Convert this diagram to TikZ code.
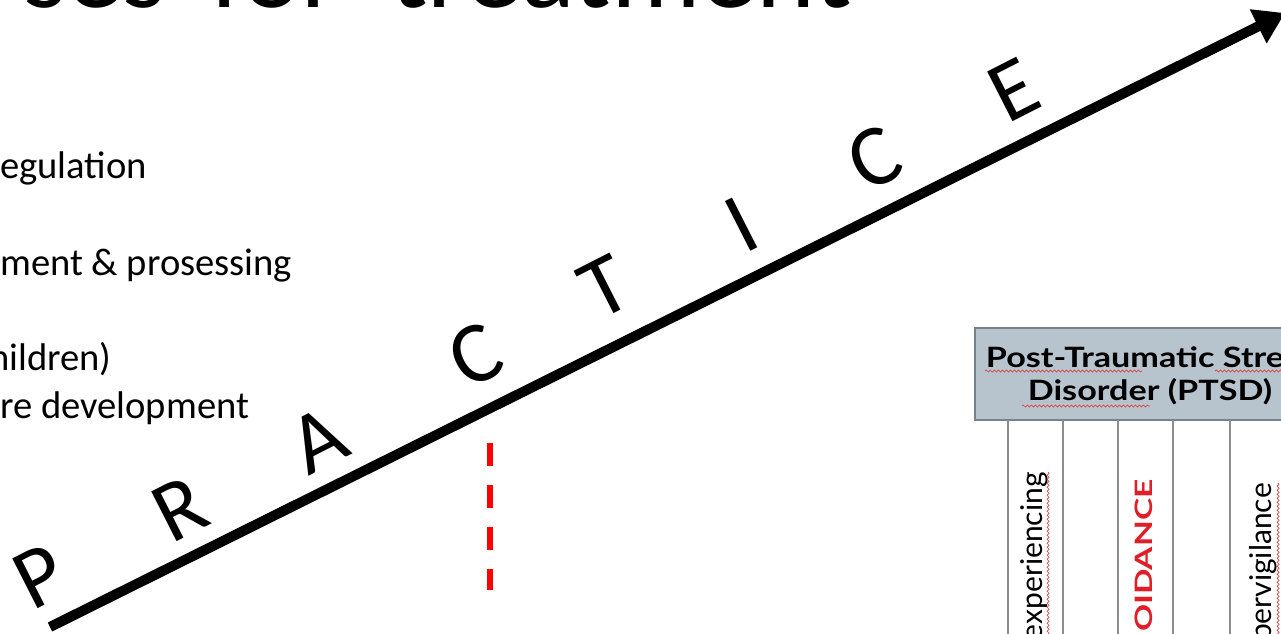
\documentclass[tikz,border=0pt]{standalone}
\usepackage{fontspec}
\setmainfont{Carlito}
\newfontfamily\tblfont{Lato}
\newfontfamily\hdrfont{Lato}[FakeStretch=1.22]
\usetikzlibrary{arrows.meta,decorations.pathmorphing}
\definecolor{hdrfill}{RGB}{184,196,205}
\definecolor{hdrdraw}{RGB}{118,130,138}
\definecolor{colgray}{RGB}{140,140,140}
\definecolor{avred}{RGB}{225,30,40}
\definecolor{squig}{RGB}{215,70,70}
\begin{document}
\begin{tikzpicture}[x=1pt,y=-1pt,
  body/.style={anchor=base west, inner sep=0pt, font=\fontsize{38.6}{40}\selectfont},
  letter/.style={rotate=27, inner sep=0pt, font=\fontsize{87}{87}\selectfont},
  hdrbox/.style={draw=hdrdraw, fill=hdrfill, line width=1.5pt, minimum width=350pt, minimum height=92pt, inner sep=0pt},
  hdrtext/.style={align=center, inner sep=0pt, font=\hdrfont\bfseries\fontsize{28}{33}\selectfont},
  colline/.style={draw=colgray, line width=1.6pt},
  vlabel/.style={rotate=90, anchor=base east, inner sep=0pt, font=\tblfont\fontsize{30}{30}\selectfont},
  squiggle/.style={draw=squig, line width=0.7pt, decorate, decoration={snake, amplitude=1pt, segment length=4pt}}
]
\useasboundingbox (0,0) rectangle (1281,633);
\clip (0,0) rectangle (1281,633);

% title (cut at top)
\node[anchor=base east, inner sep=0pt, font=\fontsize{112}{112}\selectfont] (title) at (852,7) {ses\hspace{44pt}for\hspace{50pt}treatment};

% body text (cut at left)
\node[body] (t1) at (0,178) {egulation};
\node[body] (t2) at (0,275) {ment \& prosessing};
\node[body] (t3) at (-11,370) {hildren)};
\node[body] (t4) at (0,418) {re development};

% PRACTICE letters
\node[letter] (L1) at (40,576) {P};
\node[letter] (L2) at (180,509) {R};
\node[letter] (L3) at (318,440) {A};
\node[letter] (L4) at (475,355) {C};
\node[letter] (L5) at (605,287) {T};
\node[letter] (L6) at (742,225) {I};
\node[letter] (L7) at (874,158) {C};
\node[letter] (L8) at (1014,90) {E};

% main arrow
\coordinate (astart) at (50,627);
\coordinate (aend) at (1285,13);
\draw[line width=10pt, -{Triangle[length=30pt,width=36pt]}] (astart) -- (aend);

% red dashed marker
\coordinate (rtop) at (490,443);
\coordinate (rbot) at (490,590);
\draw[red, line width=6pt, dash pattern=on 23pt off 19pt] (rtop) -- (rbot);

% PTSD table
\node[hdrbox] (hdr) at (1150,374) {};
\node[hdrtext] (hdrt) at (1150,376) {Post-Traumatic Stress\\Disorder (PTSD)};
\foreach \x in {1008,1063,1118,1173,1230} {
  \draw[colline] (\x,420) -- (\x,640);
}
\node[vlabel] (c1) at (1042,472) {experiencing};
\node[vlabel, font=\tblfont\bfseries\fontsize{24}{24}\selectfont, text=avred, xscale=1.4] (c3) at (1152,479) {OIDANCE};
\node[vlabel] (c5) at (1271,483) {pervigilance};

% spell-check squiggles
\draw[squiggle] (985,371) -- (1142,371);
\draw[squiggle] (1215,371) -- (1285,371);
\draw[squiggle] (1022,406) -- (1150,406);
\draw[squiggle] (1048,472) -- (1048,640);
\draw[squiggle] (1278,483) -- (1278,640);
\end{tikzpicture}
\end{document}
